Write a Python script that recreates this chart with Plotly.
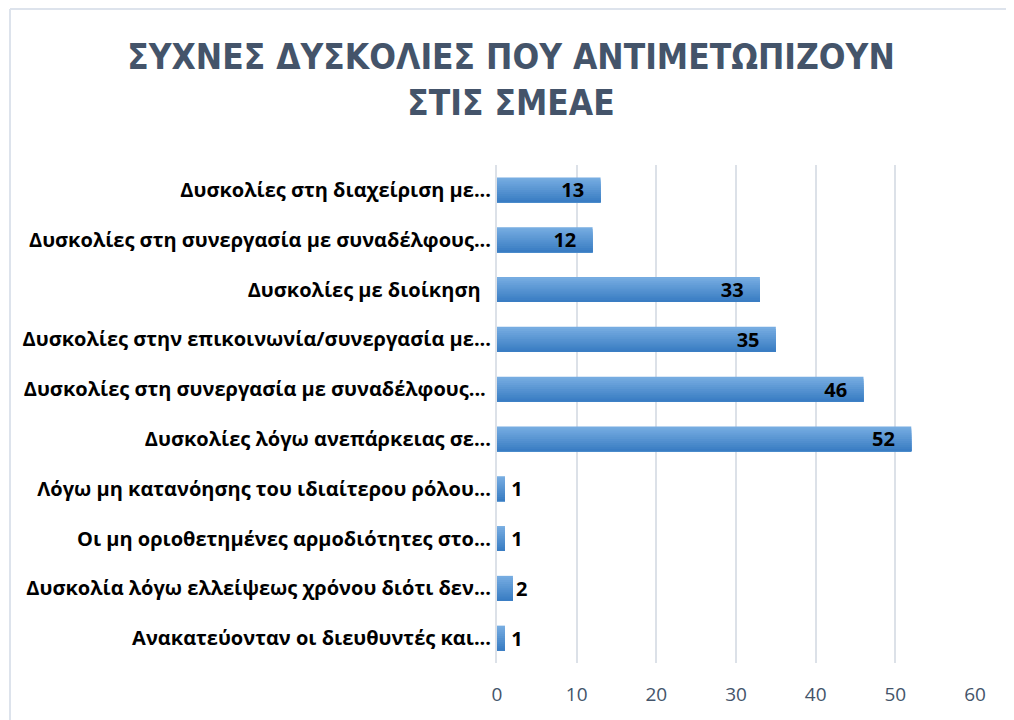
import plotly.graph_objects as go

# Data, top to bottom as shown in the chart
categories = [
    "Δυσκολίες στη διαχείριση με...",
    "Δυσκολίες στη συνεργασία με συναδέλφους...",
    "Δυσκολίες με διοίκηση\u00a0\u00a0",
    "Δυσκολίες στην επικοινωνία/συνεργασία με...",
    "Δυσκολίες στη συνεργασία με συναδέλφους... ",
    "Δυσκολίες λόγω ανεπάρκειας σε...",
    "Λόγω μη κατανόησης του ιδιαίτερου ρόλου...",
    "Οι μη οριοθετημένες αρμοδιότητες στο...",
    "Δυσκολία λόγω ελλείψεως χρόνου διότι δεν...",
    "Ανακατεύονταν οι διευθυντές και...",
]
counts = [13, 12, 33, 35, 46, 52, 1, 1, 2, 1]
x_ticks = [0, 10, 20, 30, 40, 50, 60]

TITLE = "ΣΥΧΝΕΣ ΔΥΣΚΟΛΙΕΣ ΠΟΥ ΑΝΤΙΜΕΤΩΠΙΖΟΥΝ<br>ΣΤΙΣ ΣΜΕΑΕ"

# page body has an 8px margin, so the figure is sized to the visible area
W, H = 1006, 712
ML, MR, MT, MB = 489, 39, 157, 57

# vertical gradient on bars, faked with overlapping strips (each runs to the bottom edge)
top_rgb = (0x76, 0xAC, 0xE1)
bot_rgb = (0x3A, 0x7D, 0xC3)
n_strips = 12
bar_w = 0.5

fig = go.Figure()

for k in range(n_strips):
    t = k / (n_strips - 1)
    c = tuple(round(a + (b - a) * t) for a, b in zip(top_rgb, bot_rgb))
    start = -bar_w / 2 + k * bar_w / n_strips
    fig.add_trace(go.Bar(
        x=counts, y=categories, orientation="h",
        width=bar_w / 2 - start,
        offset=start,
        marker=dict(color="rgb(%d,%d,%d)" % c, line=dict(width=0)),
        hoverinfo="skip", showlegend=False,
    ))

# transparent bar on top to carry the value labels
labels = [f"{v}\u2002\u2009" if v >= 5 else (f"\u2009{v}" if v < 2 else f"{v}") for v in counts]
text_pos = ["inside" if v >= 5 else "outside" for v in counts]
fig.add_trace(go.Bar(
    x=counts, y=categories, orientation="h",
    width=bar_w, offset=-bar_w / 2,
    marker=dict(color="rgba(0,0,0,0)", line=dict(width=0)),
    text=labels,
    textposition=text_pos,
    textangle=0,
    insidetextanchor="end",
    textfont=dict(family="Open Sans", size=20, color="#000000", weight="bold"),
    constraintext="none",
    cliponaxis=False,
    showlegend=False,
))

fig.update_layout(
    width=W, height=H,
    barmode="overlay",
    paper_bgcolor="white",
    plot_bgcolor="white",
    margin=dict(l=ML, r=MR, t=MT, b=MB),
    title=dict(
        text=TITLE,
        x=0.5, xanchor="center",
        y=1 - 61 / H, yanchor="top",
        font=dict(family="Liberation Sans Narrow, DejaVu Sans Condensed, sans-serif",
                  size=35, color="#44546A", weight="bold"),
    ),
    xaxis=dict(
        range=[0, 60],
        tickvals=x_ticks,
        showgrid=True, gridcolor="#DCE1E8", gridwidth=2,
        zeroline=False, showline=False,
        ticks="", ticklabelstandoff=18,
        tickfont=dict(family="Open Sans", size=19, color="#44546A"),
        automargin=False,
        fixedrange=True,
    ),
    yaxis=dict(
        autorange="reversed",
        showgrid=False,
        showline=True, linecolor="#DCE1E8", linewidth=2,
        ticks="", ticklabelstandoff=0,
        tickfont=dict(family="Open Sans", size=20, color="#000000", weight="bold"),
        automargin=False,
        fixedrange=True,
    ),
)

# outer chart border (left and top edges visible in the frame)
pw, ph = W - ML - MR, H - MT - MB
fig.add_shape(type="line", xref="paper", yref="paper",
              x0=(2 - ML) / pw, x1=(W + 5 - ML) / pw,
              y0=1 + (MT - 1) / ph, y1=1 + (MT - 1) / ph,
              line=dict(color="#DDE3EC", width=2))
fig.add_shape(type="line", xref="paper", yref="paper",
              x0=(2 - ML) / pw, x1=(2 - ML) / pw,
              y0=1 + (MT - 1) / ph, y1=-(MB + 5) / ph,
              line=dict(color="#DDE3EC", width=2))

fig.write_html("out.html", config=dict(displayModeBar=False))
